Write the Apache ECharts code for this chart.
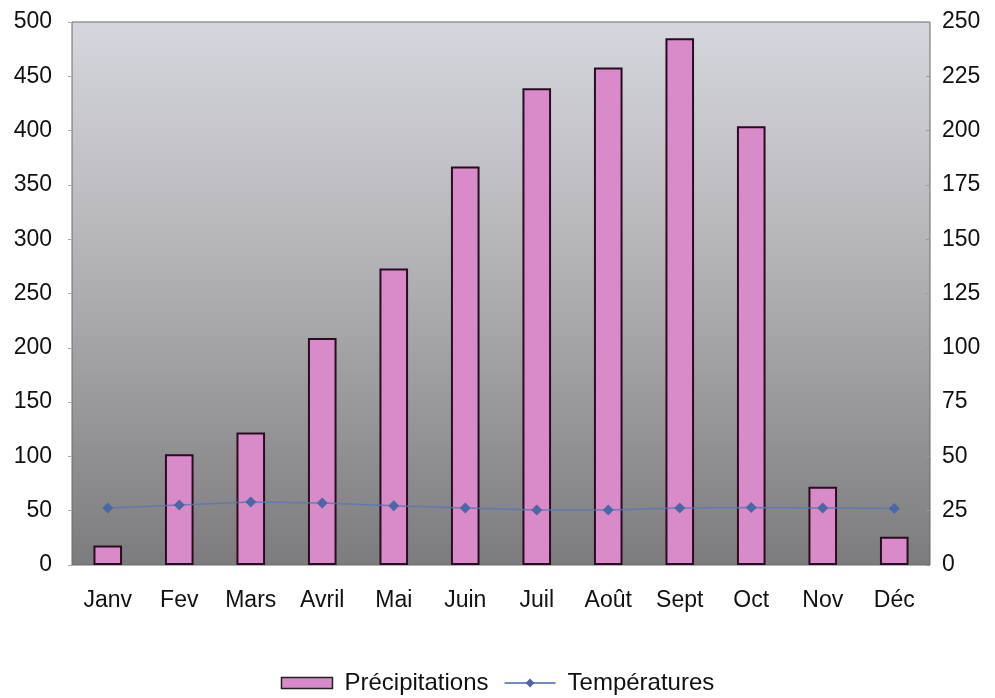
<!DOCTYPE html>
<html>
<head>
<meta charset="utf-8">
<script src="https://cdn.jsdelivr.net/npm/echarts@6/dist/echarts.min.js"></script>
<style>html,body{margin:0;padding:0;background:#fff;}#c{width:995px;height:698px;}</style>
</head>
<body>
<div id="c"></div>
<script>
const months = ['Janv','Fev','Mars','Avril','Mai','Juin','Juil','Août','Sept','Oct','Nov','Déc'];
const precipitations = [18, 102, 122, 209, 273, 367, 439, 458, 485, 404, 72, 26];
const temperatures = [26.2, 27.6, 29, 28.5, 27.3, 26.2, 25.3, 25.3, 26.3, 26.5, 26.2, 26];
const leftTicks = {min: 0, max: 500, interval: 50};
const rightTicks = {min: 0, max: 250, interval: 25};

const chart = echarts.init(document.getElementById('c'), null, {renderer: 'canvas'});
const font = 'Liberation Sans, Arial, sans-serif';
chart.setOption({
  animation: false,
  backgroundColor: '#ffffff',
  grid: {
    left: 72, right: 65, top: 22, bottom: 133,
    show: true,
    borderColor: '#6a6a6a', borderWidth: 1,
    backgroundColor: {
      type: 'linear', x: 0, y: 0, x2: 0, y2: 1,
      colorStops: [
        {offset: 0, color: '#d6d6de'},
        {offset: 0.45, color: '#b2b2b6'},
        {offset: 1, color: '#7c7c7e'}
      ]
    }
  },
  legend: {
    top: 666, left: 'center',
    itemGap: 15,
    textStyle: {fontFamily: font, fontSize: 24, color: '#111', padding: [0, 0, 0, 7]},
    data: [
      {name: 'Précipitations', icon: 'rect', itemStyle: {color: '#d98bc9', borderColor: '#222', borderWidth: 1.5}},
      {name: 'Températures'}
    ],
    itemWidth: 51, itemHeight: 11
  },
  xAxis: {
    type: 'category', data: months,
    axisLine: {show: false}, axisTick: {show: false},
    axisLabel: {fontFamily: font, fontSize: 23, color: '#111', margin: 24, interval: 0}
  },
  yAxis: [
    {
      type: 'value', position: 'left', min: leftTicks.min, max: leftTicks.max, interval: leftTicks.interval,
      splitLine: {show: false}, axisLine: {show: false},
      axisTick: {show: true, length: 4, lineStyle: {color: '#aaa'}},
      axisLabel: {fontFamily: font, fontSize: 23, color: '#111', margin: 20}
    },
    {
      type: 'value', position: 'right', min: rightTicks.min, max: rightTicks.max, interval: rightTicks.interval,
      splitLine: {show: false}, axisLine: {show: false},
      axisTick: {show: true, inside: true, length: 4, lineStyle: {color: '#999'}},
      axisLabel: {fontFamily: font, fontSize: 23, color: '#111', margin: 12}
    }
  ],
  series: [
    {
      name: 'Précipitations', type: 'bar', yAxisIndex: 0, data: precipitations,
      barWidth: '40%',
      itemStyle: {color: '#d98bc9', borderColor: '#2a0c22', borderWidth: 2}
    },
    {
      name: 'Températures', type: 'line', yAxisIndex: 1, data: temperatures,
      symbol: 'diamond', symbolSize: 11,
      lineStyle: {color: '#5a78b0', width: 1.5, opacity: 0.85},
      itemStyle: {color: '#4a68a4'}
    }
  ]
});
</script>
</body>
</html>
